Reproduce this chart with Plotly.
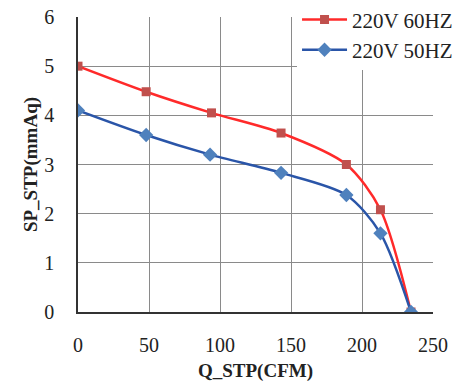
import plotly.graph_objects as go

q_60 = [0, 48, 94, 143, 189, 213, 234.5]
sp_60 = [5.0, 4.48, 4.05, 3.64, 3.0, 2.08, 0.0]
q_50 = [0, 48, 93, 143, 189, 213, 234.5]
sp_50 = [4.1, 3.6, 3.2, 2.83, 2.38, 1.6, 0.0]
x_ticks = [0, 50, 100, 150, 200, 250]
y_ticks = [0, 1, 2, 3, 4, 5, 6]

font = "Liberation Serif"

fig = go.Figure()
fig.add_trace(go.Scatter(
    x=q_60, y=sp_60, name="220V 60HZ", mode="lines+markers",
    line=dict(color="#ff2a2a", width=2.5, shape="spline", smoothing=0.8),
    marker=dict(symbol="square", size=9, color="#c0504d"),
))
fig.add_trace(go.Scatter(
    x=q_50, y=sp_50, name="220V 50HZ", mode="lines+markers",
    line=dict(color="#2a55a8", width=2.5, shape="spline", smoothing=0.8),
    marker=dict(symbol="diamond", size=11, color="#4f81bd"),
))

fig.update_layout(
    width=459, height=374,
    margin=dict(l=70, r=34, t=9, b=70, autoexpand=False),
    paper_bgcolor="white", plot_bgcolor="white",
    font=dict(family=font, size=20, color="#222"),
    showlegend=True,
    legend=dict(x=0.617, y=1.06, xanchor="left", yanchor="top",
                bgcolor="white", font=dict(size=21, family=font),
                tracegroupgap=0, itemwidth=45),
)
fig.update_xaxes(
    range=[0, 250], tickvals=x_ticks, ticks="", ticklabelstandoff=14,
    ticklabeloverflow="allow", tickfont=dict(size=20),
    showgrid=True, gridcolor="#8a8a8a", gridwidth=1, automargin=False,
    showline=True, linecolor="#333", linewidth=1.5, zeroline=False,
    title=dict(text="<b>Q_STP(CFM)</b>", font=dict(size=19, family=font), standoff=20),
)
fig.update_yaxes(
    range=[0, 6], tickvals=y_ticks, ticks="", ticklabelstandoff=18,
    ticklabeloverflow="allow", tickfont=dict(size=20),
    showgrid=True, gridcolor="#8a8a8a", gridwidth=1, automargin=False,
    showline=True, linecolor="#333", linewidth=1.5, zeroline=False,
    title=dict(text="<b>SP_STP(mmAq)</b>", font=dict(size=19, family=font), standoff=2),
)

fig.write_html("out.html")
